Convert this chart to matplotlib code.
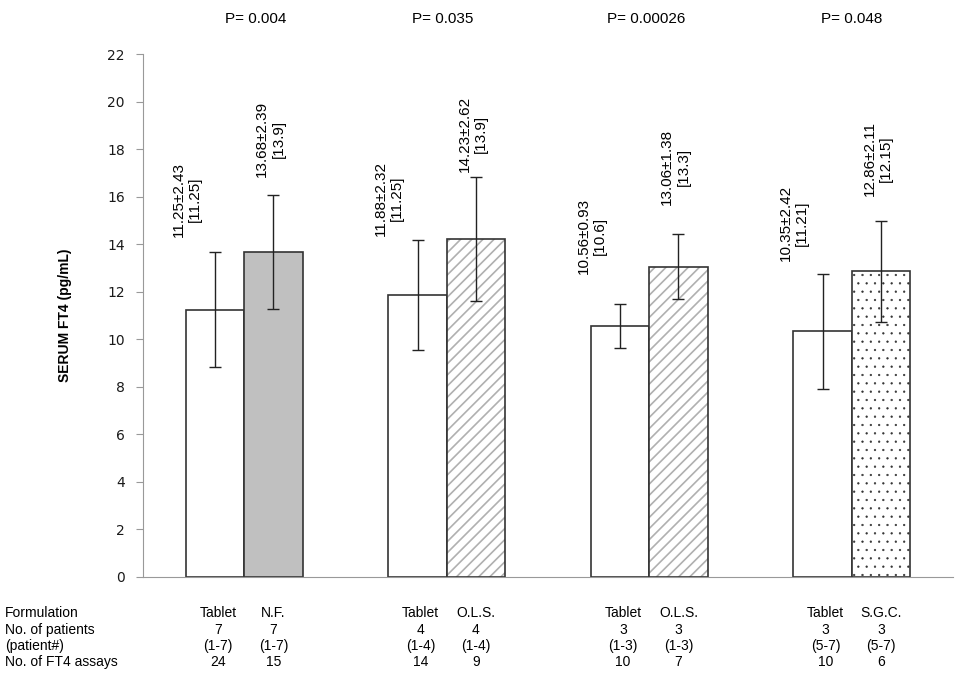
import matplotlib
matplotlib.use('Agg')
import matplotlib.pyplot as plt
import matplotlib.transforms as mtransforms
import numpy as np

plt.rcParams['font.family'] = ['Liberation Sans', 'DejaVu Sans']
plt.rcParams['font.size'] = 10

# data
p_values = ['P= 0.004', 'P= 0.035', 'P= 0.00026', 'P= 0.048']
tablet_mean = [11.25, 11.88, 10.56, 10.35]
tablet_sd = [2.43, 2.32, 0.93, 2.42]
tablet_median = ['11.25', '11.25', '10.6', '11.21']
tablet_mean_txt = ['11.25', '11.88', '10.56', '10.35']
tablet_sd_txt = ['2.43', '2.32', '0.93', '2.42']
alt_mean = [13.68, 14.23, 13.06, 12.86]
alt_sd = [2.39, 2.62, 1.38, 2.11]
alt_median = ['13.9', '13.9', '13.3', '12.15']
alt_mean_txt = ['13.68', '14.23', '13.06', '12.86']
alt_sd_txt = ['2.39', '2.62', '1.38', '2.11']
alt_names = ['N.F.', 'O.L.S.', 'O.L.S.', 'S.G.C.']
n_patients = ['7', '4', '3', '3']
patient_ids = ['(1-7)', '(1-4)', '(1-3)', '(5-7)']
tablet_assays = ['24', '14', '10', '10']
alt_assays = ['15', '9', '7', '6']
row_names = ['Formulation', 'No. of patients', '(patient#)', 'No. of FT4 assays']

# layout only: label gaps above error bars, p-label shifts
tablet_pad = [0.62, 0.15, 1.26, 0.52]
alt_pad = [0.76, 0.19, 1.21, 1.06]
p_shift = [0.055, -0.02, -0.015, 0.0]

fig = plt.figure(figsize=(9.65, 6.81), dpi=100)
ax = fig.add_axes([143/965, 1 - 577/681, 810/965, 522.7/681])

x = np.arange(4)
w = 0.288
edge = '#333333'

# tablet bars (white)
ax.bar(x - w/2, tablet_mean, w, color='white', edgecolor=edge, linewidth=1.2, zorder=2)
ax.errorbar(x - w/2, tablet_mean, yerr=tablet_sd, fmt='none', ecolor='#222222',
            elinewidth=1, capsize=4, capthick=1, zorder=3)

# alternative formulations
fills = ['#c0c0c0', 'white', 'white', 'white']
hatches = [None, '///', '///', '..']
hcol = ['#c0c0c0', '#b0b0b0', '#b0b0b0', '#333333']
hlw = [1.0, 1.2, 1.2, 0.4]
for i in range(4):
    if hatches[i]:
        b = ax.bar(x[i] + w/2, alt_mean[i], w, color='white', edgecolor=hcol[i],
                   hatch=hatches[i], linewidth=0, zorder=2)
        for p in b:
            if hasattr(p, 'set_hatch_linewidth'):
                p.set_hatch_linewidth(hlw[i])
        ax.bar(x[i] + w/2, alt_mean[i], w, color='none', edgecolor=edge,
               linewidth=1.2, zorder=2)
    else:
        ax.bar(x[i] + w/2, alt_mean[i], w, color=fills[i], edgecolor=edge,
               linewidth=1.2, zorder=2)
ax.errorbar(x + w/2, alt_mean, yerr=alt_sd, fmt='none', ecolor='#222222',
            elinewidth=1, capsize=4, capthick=1, zorder=3)

# value labels
for i in range(4):
    ax.text(x[i] - w/2 - 0.14, tablet_mean[i] + tablet_sd[i] + tablet_pad[i],
            tablet_mean_txt[i] + '±' + tablet_sd_txt[i] + '\n[' + tablet_median[i] + ']',
            rotation=90, ha='center', va='bottom', multialignment='center', fontsize=11)
    ax.text(x[i] + w/2 - 0.015, alt_mean[i] + alt_sd[i] + alt_pad[i],
            alt_mean_txt[i] + '±' + alt_sd_txt[i] + '\n[' + alt_median[i] + ']',
            rotation=90, ha='center', va='bottom', multialignment='center', fontsize=11)

ax.set_xlim(-0.5, 3.5)
ax.set_ylim(0, 22)
ax.set_yticks(np.arange(0, 23, 2))
ax.set_xticks([])
ax.spines['top'].set_visible(False)
ax.spines['right'].set_visible(False)
ax.spines['left'].set_color('#999999')
ax.spines['bottom'].set_color('#999999')
ax.tick_params(axis='y', direction='out', length=5, color='#999999', pad=8,
               labelsize=10, labelcolor='#1a1a1a')
for lab in ax.get_yticklabels():
    lab.set_family('DejaVu Sans')
ax.set_ylabel('SERUM FT4 (pg/mL)', fontweight='bold', fontsize=10)
ax.yaxis.set_label_coords(-0.088, 0.5)

# p values above each group
tr = mtransforms.blended_transform_factory(ax.transData, fig.transFigure)
for i in range(4):
    ax.text(x[i] + p_shift[i], 1 - 19/681, p_values[i], transform=tr, ha='center',
            va='center', fontsize=11)

# table below the chart
row_y = [1 - 613/681, 1 - 630/681, 1 - 646/681, 1 - 662/681]
for j in range(4):
    fig.text(0.005, row_y[j], row_names[j], ha='left', va='center', fontsize=10)
for i in range(4):
    t_col = ['Tablet', n_patients[i], patient_ids[i], tablet_assays[i]]
    a_col = [alt_names[i], n_patients[i], patient_ids[i], alt_assays[i]]
    for j in range(4):
        ax.text(x[i] - w/2 + 0.015, row_y[j], t_col[j], transform=tr, ha='center',
                va='center', fontsize=10)
        ax.text(x[i] + w/2, row_y[j], a_col[j], transform=tr, ha='center',
                va='center', fontsize=10)

fig.savefig('out.png', dpi=100)
